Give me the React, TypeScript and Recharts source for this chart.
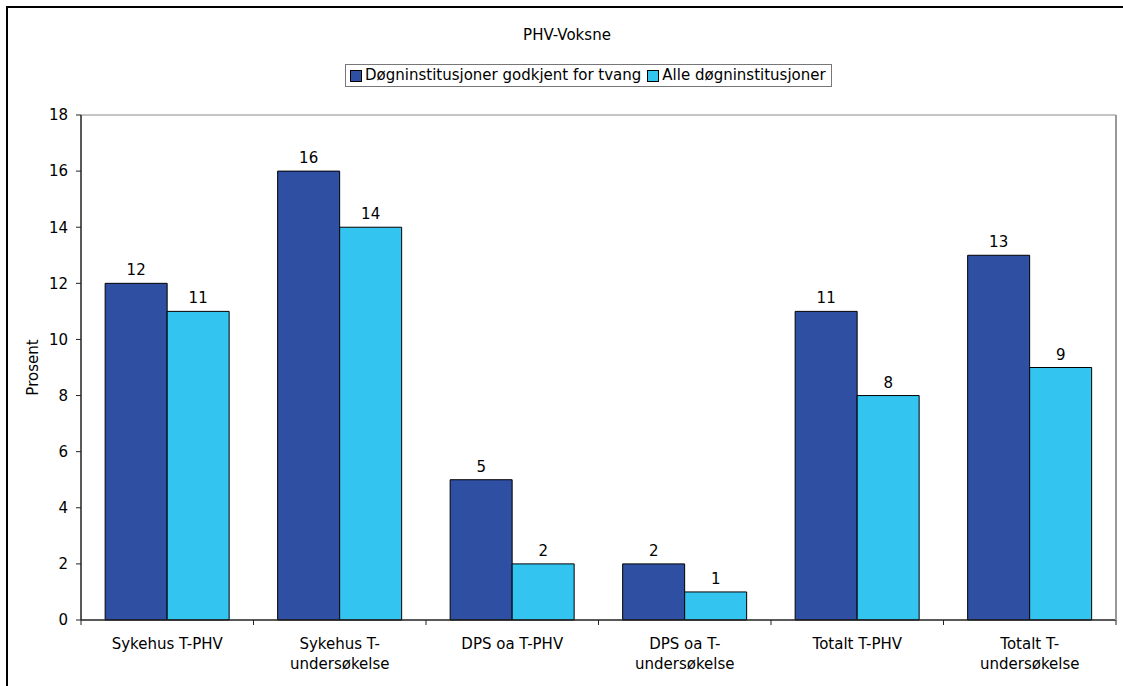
import React from "react"
import { BarChart, Bar, XAxis, YAxis, LabelList } from "recharts"

const categories = [
  "Sykehus T-PHV",
  "Sykehus T-undersøkelse",
  "DPS oa T-PHV",
  "DPS oa T-undersøkelse",
  "Totalt T-PHV",
  "Totalt T-undersøkelse",
]
const godkjent = [12, 16, 5, 2, 11, 13]
const alle = [11, 14, 2, 1, 8, 9]
const yTicks = [0, 2, 4, 6, 8, 10, 12, 14, 16, 18]

const seriesNames = ["Døgninstitusjoner godkjent for tvang", "Alle døgninstitusjoner"]
const colors = ["#2f4fa2", "#33c4ef"]

const FONT = "Verdana, 'DejaVu Sans', sans-serif"
const FS = 15

const data = categories.map((name, i) => ({ name, godkjent: godkjent[i], alle: alle[i] }))

// category name (long ones wrap after "T-") with tick marks on the band edges
function CategoryTick(props: any) {
  const { x, y, payload, index } = props
  const half: number = payload.offset ?? 86.25
  const label: string = payload.value
  const lines = label.includes("undersøkelse") ? label.replace("T-", "T-\n").split("\n") : [label]
  return (
    <g>
      <line x1={x - half} x2={x - half} y1={y} y2={y + 5} stroke="#222" />
      {index === categories.length - 1 && <line x1={x + half} x2={x + half} y1={y} y2={y + 5} stroke="#222" />}
      {lines.map((line, i) => (
        <text key={i} x={x} y={y + 29 + i * 20} textAnchor="middle" fontSize={FS} fill="#000" fontFamily={FONT}>
          {line}
        </text>
      ))}
    </g>
  )
}

function LegendBox() {
  return (
    <div style={{ position: "absolute", left: 345, top: 64 }}>
      <div
        style={{
          border: "1px solid #777",
          padding: "1px 5px 1px 4px",
          lineHeight: "19px",
          display: "flex",
          alignItems: "center",
          fontFamily: FONT,
          fontSize: FS,
          color: "#000",
          whiteSpace: "nowrap",
        }}
      >
        {seriesNames.map((n, i) => (
          <span key={n} style={{ display: "flex", alignItems: "center", marginRight: i === 0 ? 6 : 0 }}>
            <span
              style={{
                width: 10,
                height: 10,
                background: colors[i],
                border: "1px solid #000",
                marginRight: 3,
                display: "inline-block",
              }}
            />
            {n}
          </span>
        ))}
      </div>
    </div>
  )
}

export default function App() {
  return (
    <div style={{ position: "absolute", left: 0, top: 0, width: 1123, height: 686, overflow: "hidden", background: "#fff" }}>
      {/* outer frame: only top and left edges fall inside the page */}
      <div
        style={{
          position: "absolute",
          left: 6,
          top: 6,
          width: 1200,
          height: 760,
          borderTop: "2px solid #000",
          borderLeft: "2px solid #000",
        }}
      />
      <div
        style={{
          position: "absolute",
          left: 467,
          width: 200,
          top: 26,
          textAlign: "center",
          fontFamily: FONT,
          fontSize: FS,
          color: "#000",
        }}
      >
        PHV-Voksne
      </div>
      <LegendBox />
      <div style={{ position: "absolute", left: 0, top: 0 }}>
        <BarChart
          width={1123}
          height={686}
          data={data}
          margin={{ top: 114, right: 6, left: 21, bottom: 0 }}
          barCategoryGap="14%"
          barGap={0}
        >
          <XAxis
            dataKey="name"
            tick={<CategoryTick />}
            tickLine={false}
            axisLine={{ stroke: "#222", strokeWidth: 1.5 }}
            tickSize={0}
            tickMargin={0}
            interval={0}
            height={66}
          />
          <XAxis xAxisId="top" dataKey="name" orientation="top" height={1} tick={false} tickLine={false} axisLine={{ stroke: "#8a8a8a" }} />
          <YAxis
            domain={[0, 18]}
            ticks={yTicks}
            width={60}
            tickSize={5}
            tickMargin={8}
            interval={0}
            tick={{ fontSize: FS, fill: "#000", fontFamily: FONT }}
            tickLine={{ stroke: "#222" }}
            axisLine={{ stroke: "#222", strokeWidth: 1.5 }}
            label={{
              content: (p: any) => {
                const vb = p.viewBox
                const cx = vb.x + 12
                const cy = vb.y + vb.height / 2
                return (
                  <text x={cx} y={cy} transform={`rotate(-90 ${cx} ${cy})`} textAnchor="middle" dominantBaseline="central" fontSize={FS} fontFamily={FONT} fill="#000">
                    Prosent
                  </text>
                )
              },
            }}
          />
          <YAxis yAxisId="right" orientation="right" domain={[0, 18]} width={1} tick={false} tickLine={false} axisLine={{ stroke: "#999", strokeWidth: 2 }} />
          <Bar dataKey="godkjent" name={seriesNames[0]} fill={colors[0]} stroke="#000" strokeWidth={1} isAnimationActive={false}>
            <LabelList dataKey="godkjent" position="top" offset={8} fontSize={FS} fill="#000" fontFamily={FONT} />
          </Bar>
          <Bar dataKey="alle" name={seriesNames[1]} fill={colors[1]} stroke="#000" strokeWidth={1} isAnimationActive={false}>
            <LabelList dataKey="alle" position="top" offset={8} fontSize={FS} fill="#000" fontFamily={FONT} />
          </Bar>
        </BarChart>
      </div>
    </div>
  )
}
